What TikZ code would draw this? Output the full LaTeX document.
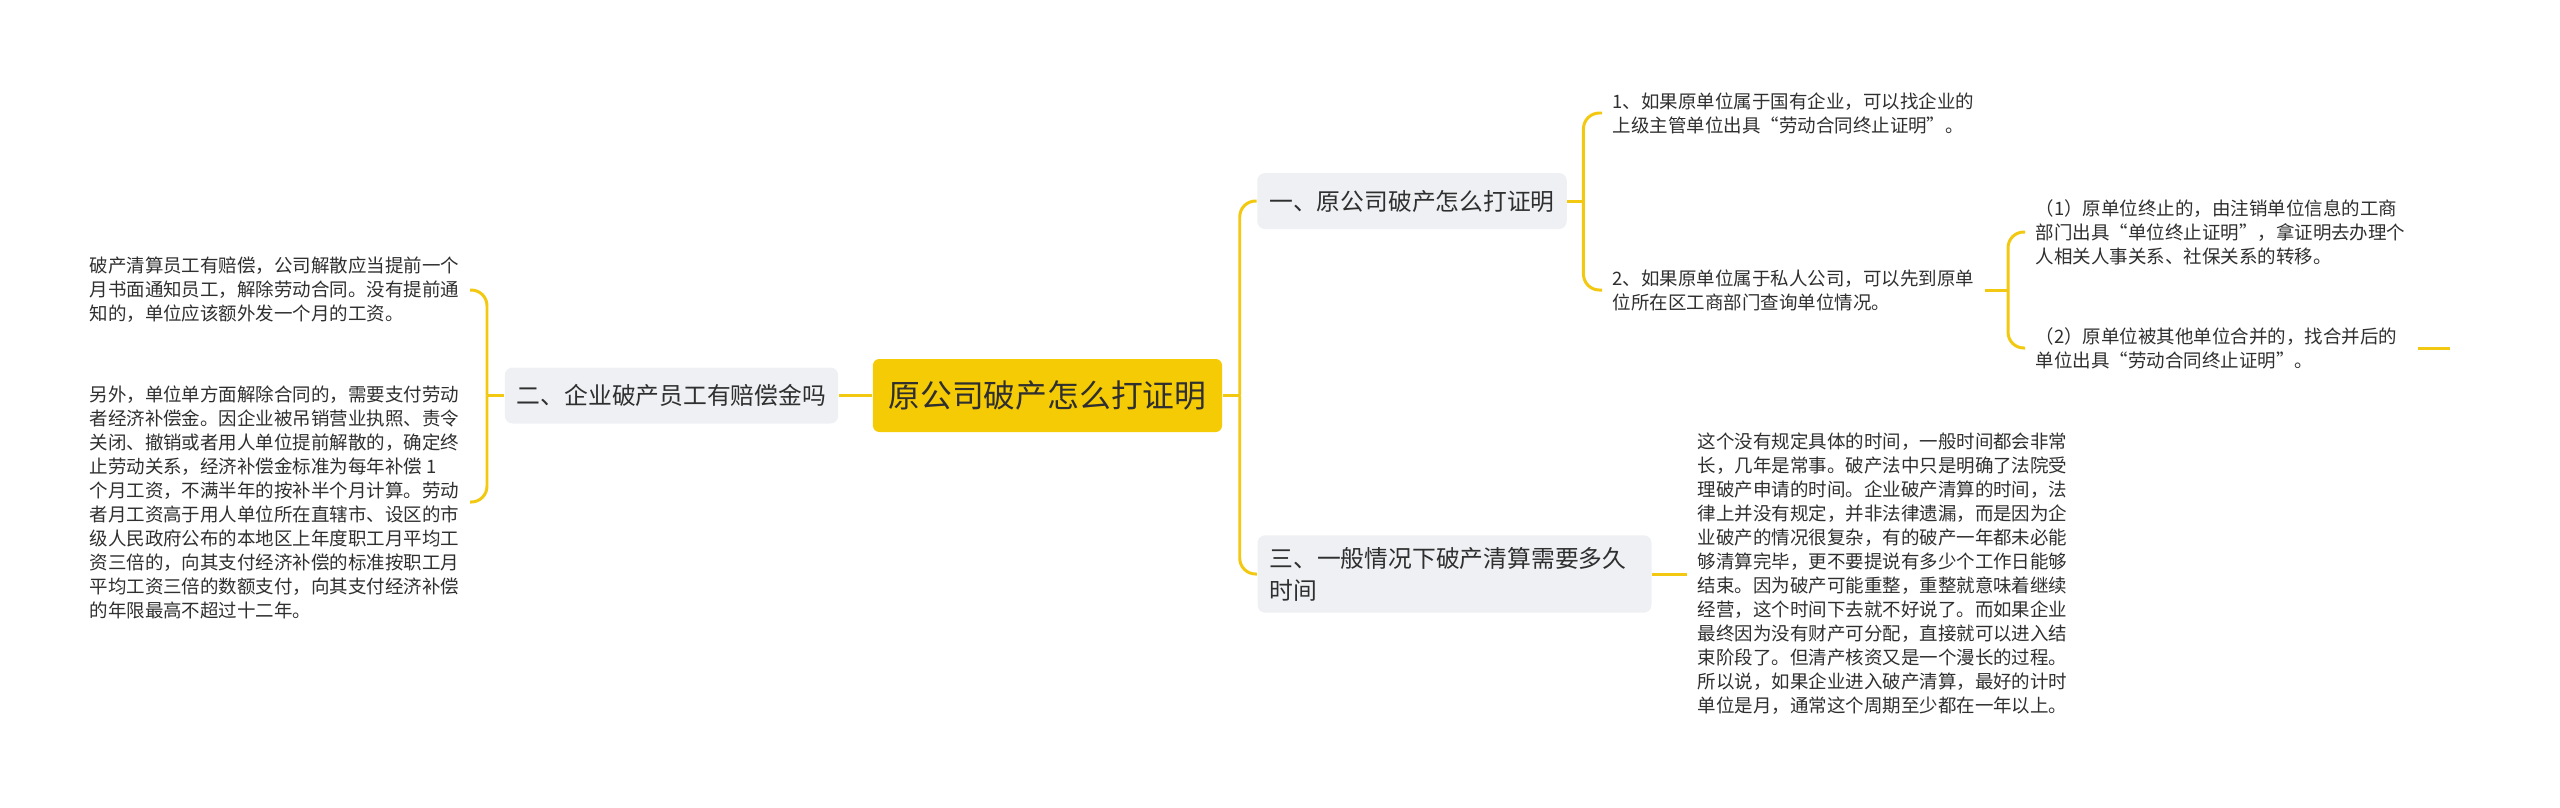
\documentclass[tikz,border=0pt]{standalone}
\usepackage{fontspec}
\newfontfamily\cjk{Noto Sans CJK SC}
\usetikzlibrary{calc,positioning}
\definecolor{gold}{HTML}{F5CB05}
\definecolor{goldline}{HTML}{F2C811}
\definecolor{ink}{HTML}{2F2F2F}
\definecolor{topicfill}{HTML}{EEF0F3}

\begin{document}
\begin{tikzpicture}[
  x=1cm,y=1cm,
  font=\cjk\fontsize{5.26}{6.83}\selectfont,
  text=ink,
  link/.style={draw=goldline, line width=0.85pt},
  elbow/.style={link, rounded corners=4.5pt},
  central/.style={fill=gold, rounded corners=1.8pt, inner xsep=0.155cm,
    minimum height=0.73cm, font=\cjk\fontsize{9.05}{10.5}\selectfont},
  topic/.style={fill=topicfill, rounded corners=2.2pt, inner xsep=0.12cm,
    minimum height=0.56cm, align=left, font=\cjk\fontsize{6.77}{9.1}\selectfont},
  leaf/.style={align=left, inner xsep=0.1cm, inner ysep=0pt}
]
\useasboundingbox (0,0) rectangle (25.60,8.07);

% Central topic
\node[central] (root) at (10.475,4.115) {原公司破产怎么打证明};

% Left branch: compensation
\node[topic] (compensation) at (6.715,4.115) {二、企业破产员工有赔偿金吗};
\coordinate (compfork) at (4.87,4.115);
\node[leaf, anchor=east] (notice) at (4.70,5.17)
  {破产清算员工有赔偿，公司解散应当提前一个\\月书面通知员工，解除劳动合同。没有提前通\\知的，单位应该额外发一个月的工资。};
\node[leaf, anchor=east] (severance) at (4.70,3.05)
  {另外，单位单方面解除合同的，需要支付劳动\\者经济补偿金。因企业被吊销营业执照、责令\\关闭、撤销或者用人单位提前解散的，确定终\\止劳动关系，经济补偿金标准为每年补偿 1\\个月工资，不满半年的按补半个月计算。劳动\\者月工资高于用人单位所在直辖市、设区的市\\级人民政府公布的本地区上年度职工月平均工\\资三倍的，向其支付经济补偿的标准按职工月\\平均工资三倍的数额支付，向其支付经济补偿\\的年限最高不超过十二年。};

\draw[link] (root.west) -- (compensation.east);
\draw[link] (compensation.west) -- (compfork);
\draw[elbow] (compfork) |- (notice.east);
\draw[elbow] (compfork) |- (severance.east);

% Right branches
\coordinate (rootfork) at ($(root.east)+(0.17,0)$);
\node[topic] (proof) at (14.12,6.06) {一、原公司破产怎么打证明};
\node[topic, text width=3.70cm] (duration) at (14.545,2.33) {三、一般情况下破产清算需要多久\\时间};
\draw[link] (root.east) -- (rootfork);
\draw[elbow] (rootfork) |- (proof.west);
\draw[elbow] (rootfork) |- (duration.west);

% How to get the proof
\coordinate (prooffork) at ($(proof.east)+(0.16,0)$);
\node[leaf, anchor=west] (stateowned) at (16.02,6.94)
  {1、如果原单位属于国有企业，可以找企业的\\上级主管单位出具“劳动合同终止证明”。};
\node[leaf, anchor=west] (private) at (16.02,5.17)
  {2、如果原单位属于私人公司，可以先到原单\\位所在区工商部门查询单位情况。};
\draw[link] (proof.east) -- (prooffork);
\draw[elbow] (prooffork) |- (stateowned.west);
\draw[elbow] (prooffork) |- (private.west);

\coordinate (privatefork) at (20.08,5.17);
\node[leaf, anchor=west] (cancelled) at (20.25,5.75)
  {（1）原单位终止的，由注销单位信息的工商\\部门出具“单位终止证明”，拿证明去办理个\\人相关人事关系、社保关系的转移。};
\node[leaf, anchor=west] (merged) at (20.25,4.59)
  {（2）原单位被其他单位合并的，找合并后的\\单位出具“劳动合同终止证明”。};
\coordinate (mergedtail) at (24.50,4.59);
\draw[link] (private.east) -- (privatefork);
\draw[elbow] (privatefork) |- (cancelled.west);
\draw[elbow] (privatefork) |- (merged.west);
\draw[link, shorten <=0.1cm] (merged.east) -- (mergedtail);

% Liquidation time
\node[leaf, anchor=west] (timeline) at (16.87,2.33)
  {这个没有规定具体的时间，一般时间都会非常\\长，几年是常事。破产法中只是明确了法院受\\理破产申请的时间。企业破产清算的时间，法\\律上并没有规定，并非法律遗漏，而是因为企\\业破产的情况很复杂，有的破产一年都未必能\\够清算完毕，更不要提说有多少个工作日能够\\结束。因为破产可能重整，重整就意味着继续\\经营，这个时间下去就不好说了。而如果企业\\最终因为没有财产可分配，直接就可以进入结\\束阶段了。但清产核资又是一个漫长的过程。\\所以说，如果企业进入破产清算，最好的计时\\单位是月，通常这个周期至少都在一年以上。};
\draw[link] (duration.east) -- (timeline.west);

\end{tikzpicture}
\end{document}
